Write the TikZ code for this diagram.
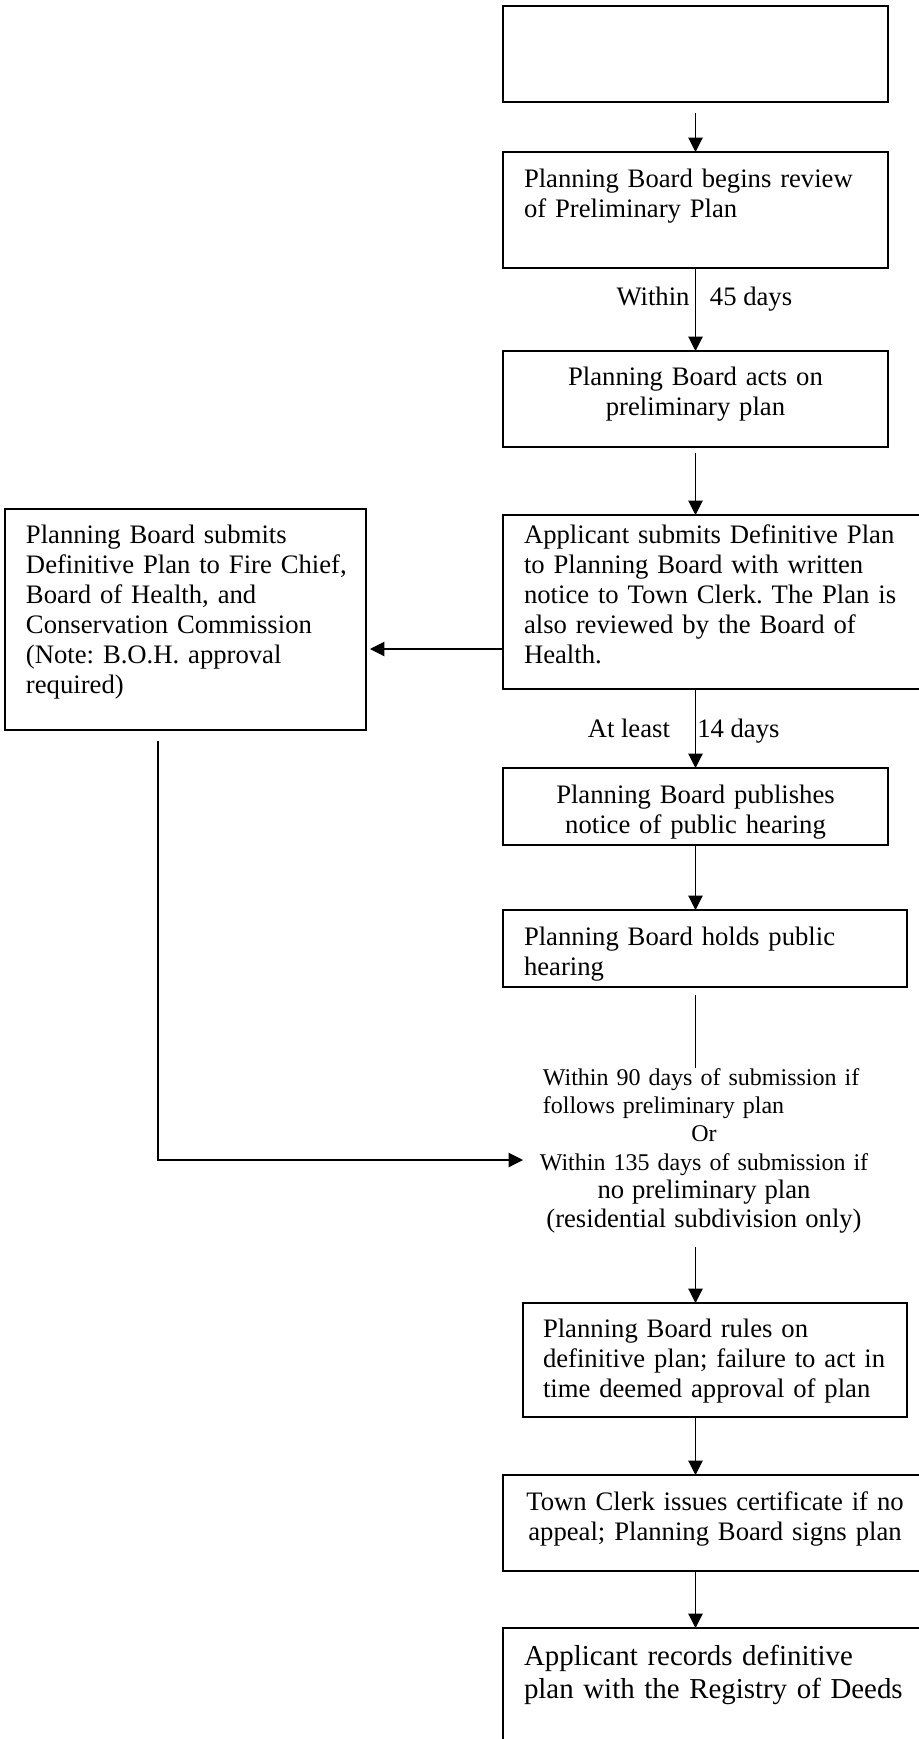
\documentclass[tikz,border=0pt]{standalone}
\usepackage{fontspec}
\setmainfont{Liberation Serif}
\usetikzlibrary{arrows.meta,positioning,calc}
\tikzset{
	box/.style={draw, line width=0.6pt, inner sep=0, outer sep=0},
	txt/.style={inner sep=0, outer sep=0, anchor=base west, text width=#1, align=left},
	txt/.default=185pt,
	ctxt/.style={inner sep=0, outer sep=0, anchor=base, text width=#1, align=center},
	ctxt/.default=185pt,
	lab/.style={inner sep=0, outer sep=0}
}
\newcommand{\bigln}[1]{{\fontsize{12}{12.8}\selectfont #1}}
\newcommand{\lln}[1]{\makebox[\linewidth][l]{#1}}
\newcommand{\cln}[1]{\makebox[\linewidth][c]{#1}}

\begin{document}
\frenchspacing
\begin{tikzpicture}[x=0.45pt, y=-0.45pt, ->, >={Triangle[width=6.5pt,length=6.5pt]},
		line width=0.5pt, font=\fontsize{12}{13.5}\selectfont]
		\clip (0,0) rectangle (919,1739);
		% right column
		\node[box, minimum width=385*0.45pt, minimum height=96*0.45pt] (b0) at (695.5,54) {};
		\node[box, minimum width=385*0.45pt, minimum height=116*0.45pt] (b1) at (695.5,210) {};
		\node[txt] (b1_t) at (524,187) {Planning Board begins review\\of Preliminary Plan};
		\node[box, minimum width=385*0.45pt, minimum height=96*0.45pt] (b2) at (695.5,399) {};
		\node[ctxt] (b2_t) at (695.5,385) {Planning Board acts on\\preliminary plan};
		\node[box, minimum width=432*0.45pt, minimum height=174*0.45pt] (b3) at (719,602) {};
		\node[txt] (b3_t) at (524,543) {Applicant submits Definitive Plan\\to Planning Board with written\\notice to Town Clerk. The Plan is\\also reviewed by the Board of\\Health.};
		\node[box, minimum width=385*0.45pt, minimum height=77*0.45pt] (b4) at (695.5,806.5) {};
		\node[ctxt] (b4_t) at (695.5,803) {Planning Board publishes\\notice of public hearing};
		\node[box, minimum width=404*0.45pt, minimum height=77*0.45pt] (b5) at (705,948.5) {};
		\node[txt] (b5_t) at (524,945) {Planning Board holds public\\hearing};
		\node[ctxt=145pt, font=\fontsize{10.8}{12.8}\selectfont] (cond) at (704,1085) {\lln{Within 90 days of submission if}\\\lln{follows preliminary plan}\\Or\\\cln{Within 135 days of submission if}\\\bigln{no preliminary plan}\\\bigln{(residential subdivision only)}};
		\node[box, minimum width=384*0.45pt, minimum height=114*0.45pt] (b6) at (715,1360) {};
		\node[txt] (b6_t) at (543,1337) {Planning Board rules on\\definitive plan; failure to act in\\time deemed approval of plan};
		\node[box, minimum width=424*0.45pt, minimum height=96*0.45pt] (b7) at (715,1523) {};
		\node[ctxt=200pt] (b7_t) at (715,1510) {Town Clerk issues certificate if no\\appeal; Planning Board signs plan};
		\node[box, minimum width=432*0.45pt, minimum height=132*0.45pt] (b8) at (719,1694) {};
		\node[txt, font=\fontsize{13}{14.9}\selectfont] (b8_t) at (524,1665) {Applicant records definitive\\plan with the Registry of Deeds};
		% left box
		\node[box, minimum width=361*0.45pt, minimum height=221*0.45pt] (bl) at (185.5,619.5) {};
		\node[txt=155pt] (bl_t) at (26,543) {Planning Board submits\\Definitive Plan to Fire Chief,\\Board of Health, and\\Conservation Commission\\(Note: B.O.H. approval\\required)};
		\coordinate (in) at (523,1160);
		% connectors
		\draw[shorten <=11*0.45pt] (b0.south) -- (b1.north);
		\draw (b1.south) -- node[lab, pos=0.45, anchor=base east, xshift=-2.7pt] {Within}
			node[lab, pos=0.45, anchor=base west, xshift=6.5pt] {45 days} (b2.north);
		\draw[shorten <=6*0.45pt] (b2.south) -- (b2.south |- b3.north);
		\draw[shorten >=4*0.45pt] ([shift={(0,47)}]b3.west) -- ([shift={(0,47)}]b3.west -| bl.east);
		\draw (b3.south -| b4.north) -- node[lab, pos=0.62, anchor=base east, xshift=-11.5pt] {At least}
			node[lab, pos=0.62, anchor=base west, xshift=0.8pt] {14 days} (b4.north);
		\draw (b4.south) -- (b4.south |- b5.north);
		\draw[-, shorten <=8*0.45pt] (b4.south |- b5.south) -- (b4.south |- cond.north);
		\draw[shorten <=14*0.45pt] (b4.south |- cond.south) -- (b4.south |- b6.north);
		\draw (b4.south |- b6.south) -- (b4.south |- b7.north);
		\draw (b4.south |- b7.south) -- (b4.south |- b8.north);
		\draw[shorten <=11*0.45pt] ([xshift=-27.5*0.45pt]bl.south) |- (in);
	\end{tikzpicture}
\end{document}
